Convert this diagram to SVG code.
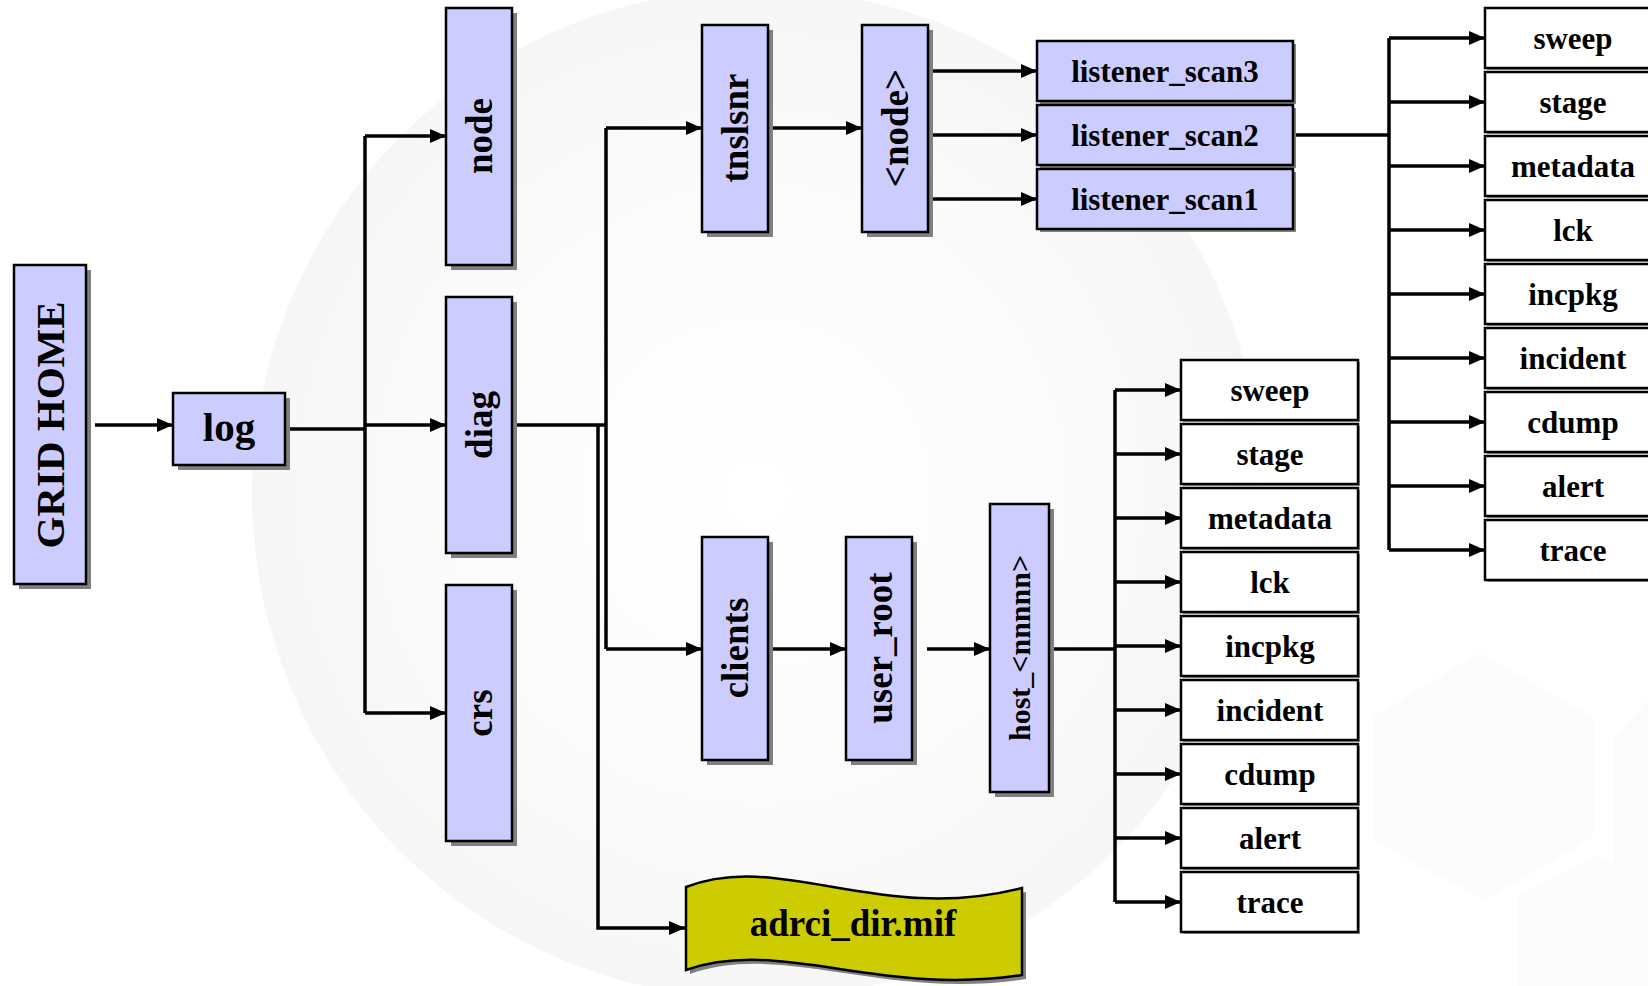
<svg xmlns="http://www.w3.org/2000/svg" width="1648" height="986" viewBox="0 0 1648 986">
<defs>
<marker id="ah" markerUnits="userSpaceOnUse" markerWidth="16" markerHeight="14" refX="16" refY="7" orient="auto"><path d="M0,0 L16,7 L0,14 z" fill="#000"/></marker>
<radialGradient id="bg" cx="0.5" cy="0.5" r="0.5"><stop offset="0" stop-color="#ffffff"/><stop offset="0.6" stop-color="#fbfbfb"/><stop offset="1" stop-color="#f6f6f6"/></radialGradient>
<style>
.b{fill:#ccccff;stroke:#000;stroke-width:2.5}
.w{fill:#fff;stroke:#000;stroke-width:2.5}
.sh{fill:#808080}
.shw{fill:#9a9a9a}
.t{font-family:"Liberation Serif","Times New Roman",serif;font-weight:bold;fill:#000;text-anchor:middle}
.c{fill:none;stroke:#000;stroke-width:3.5}
.a{fill:none;stroke:#000;stroke-width:3.5;marker-end:url(#ah)}
</style>
</defs>
<rect width="1648" height="986" fill="#fff"/>
<g id="background">
<circle cx="757" cy="494" r="505" fill="url(#bg)"/>
<polygon points="1480,653 1593,717 1593,837 1485,900 1373,840 1373,717" fill="#fbfbfb"/>
<polygon points="1648,700 1648,900 1613,880 1613,740" fill="#fbfbfb"/>
<polygon points="1597,855 1648,880 1648,986 1517,986 1517,895" fill="#fbfbfb"/>
</g>
<g id="connectors">
<path class="a" d="M95,425 H173"/>
<path class="c" d="M285,429 H365"/>
<path class="c" d="M365,136 V713"/>
<path class="a" d="M365,136 H446"/>
<path class="a" d="M365,425 H446"/>
<path class="a" d="M365,713 H446"/>
<path class="c" d="M512,425 H606"/>
<path class="c" d="M606,128 V649"/>
<path class="a" d="M606,128 H702"/>
<path class="a" d="M606,649 H702"/>
<path class="a" d="M598,425 V928 H685"/>
<path class="a" d="M768,128 H862"/>
<path class="a" d="M928,71 H1037"/>
<path class="a" d="M928,135 H1037"/>
<path class="a" d="M928,199 H1037"/>
<path class="c" d="M1293,135 H1389"/>
<path class="c" d="M1389,38 V550"/>
<path class="a" d="M1389,38 H1485"/>
<path class="a" d="M1389,102 H1485"/>
<path class="a" d="M1389,166 H1485"/>
<path class="a" d="M1389,230 H1485"/>
<path class="a" d="M1389,294 H1485"/>
<path class="a" d="M1389,358 H1485"/>
<path class="a" d="M1389,422 H1485"/>
<path class="a" d="M1389,486 H1485"/>
<path class="a" d="M1389,550 H1485"/>
<path class="a" d="M768,649 H846"/>
<path class="a" d="M927,649 H990"/>
<path class="c" d="M1049,649 H1115"/>
<path class="c" d="M1115,390 V902"/>
<path class="a" d="M1115,390 H1181"/>
<path class="a" d="M1115,454 H1181"/>
<path class="a" d="M1115,518 H1181"/>
<path class="a" d="M1115,582 H1181"/>
<path class="a" d="M1115,646 H1181"/>
<path class="a" d="M1115,710 H1181"/>
<path class="a" d="M1115,774 H1181"/>
<path class="a" d="M1115,838 H1181"/>
<path class="a" d="M1115,902 H1181"/>
</g>
<g id="grid-home"><rect class="sh" x="19" y="270" width="72" height="319"/><rect class="b" x="14" y="265" width="72" height="319"/><text class="t" font-size="41" transform="rotate(-90 50 425)" x="50" y="439">GRID HOME</text></g>
<g id="log"><rect class="sh" x="178" y="398" width="112" height="72"/><rect class="b" x="173" y="393" width="112" height="72"/><text class="t" font-size="41" x="229" y="441">log</text></g>
<g id="node"><rect class="sh" x="451" y="13" width="66" height="257"/><rect class="b" x="446" y="8" width="66" height="257"/><text class="t" font-size="37" transform="rotate(-90 479 136)" x="479" y="149">node</text></g>
<g id="diag"><rect class="sh" x="451" y="302" width="66" height="256"/><rect class="b" x="446" y="297" width="66" height="256"/><text class="t" font-size="37" transform="rotate(-90 479 425)" x="479" y="438">diag</text></g>
<g id="crs"><rect class="sh" x="451" y="590" width="66" height="256"/><rect class="b" x="446" y="585" width="66" height="256"/><text class="t" font-size="37" transform="rotate(-90 479 713)" x="479" y="726">crs</text></g>
<g id="tnslsnr"><rect class="sh" x="707" y="30" width="66" height="207"/><rect class="b" x="702" y="25" width="66" height="207"/><text class="t" font-size="37" transform="rotate(-90 735 128)" x="735" y="141">tnslsnr</text></g>
<g id="node-dir"><rect class="sh" x="867" y="30" width="66" height="207"/><rect class="b" x="862" y="25" width="66" height="207"/><text class="t" font-size="37" transform="rotate(-90 895 128)" x="895" y="141">&lt;node&gt;</text></g>
<g id="listener_scan3"><rect class="sh" x="1040" y="44" width="256" height="60"/><rect class="b" x="1037" y="41" width="256" height="60"/><text class="t" font-size="31" x="1165" y="82">listener_scan3</text></g>
<g id="listener_scan2"><rect class="sh" x="1040" y="108" width="256" height="60"/><rect class="b" x="1037" y="105" width="256" height="60"/><text class="t" font-size="31" x="1165" y="146">listener_scan2</text></g>
<g id="listener_scan1"><rect class="sh" x="1040" y="172" width="256" height="60"/><rect class="b" x="1037" y="169" width="256" height="60"/><text class="t" font-size="31" x="1165" y="210">listener_scan1</text></g>
<g id="clients"><rect class="sh" x="707" y="542" width="66" height="223"/><rect class="b" x="702" y="537" width="66" height="223"/><text class="t" font-size="37" transform="rotate(-90 735 648)" x="735" y="661">clients</text></g>
<g id="user_root"><rect class="sh" x="851" y="542" width="66" height="223"/><rect class="b" x="846" y="537" width="66" height="223"/><text class="t" font-size="37" transform="rotate(-90 879 648)" x="879" y="661">user_root</text></g>
<g id="host"><rect class="sh" x="995" y="509" width="59" height="288"/><rect class="b" x="990" y="504" width="59" height="288"/><text class="t" font-size="30" transform="rotate(-90 1019 648)" x="1019" y="659">host_&lt;nnnnn&gt;</text></g>
<g id="adrci_dir"><path d="M690,891 C784,854 884,929 1026,892 L1026,979 C884,1001 784,941 690,974 Z" class="sh"/><path d="M686,887 C780,850 880,925 1022,888 L1022,975 C880,997 780,937 686,970 Z" fill="#cccc00" stroke="#000" stroke-width="2.5"/><text class="t" font-size="37" x="853" y="936">adrci_dir.mif</text></g>
<g id="tnslsnr-subdirs">
<g id="r-sweep"><rect class="shw" x="1487" y="10" width="176" height="60"/><rect class="w" x="1485" y="8" width="176" height="60"/><text class="t" font-size="31" x="1573" y="49">sweep</text></g>
<g id="r-stage"><rect class="shw" x="1487" y="74" width="176" height="60"/><rect class="w" x="1485" y="72" width="176" height="60"/><text class="t" font-size="31" x="1573" y="113">stage</text></g>
<g id="r-metadata"><rect class="shw" x="1487" y="138" width="176" height="60"/><rect class="w" x="1485" y="136" width="176" height="60"/><text class="t" font-size="31" x="1573" y="177">metadata</text></g>
<g id="r-lck"><rect class="shw" x="1487" y="202" width="176" height="60"/><rect class="w" x="1485" y="200" width="176" height="60"/><text class="t" font-size="31" x="1573" y="241">lck</text></g>
<g id="r-incpkg"><rect class="shw" x="1487" y="266" width="176" height="60"/><rect class="w" x="1485" y="264" width="176" height="60"/><text class="t" font-size="31" x="1573" y="305">incpkg</text></g>
<g id="r-incident"><rect class="shw" x="1487" y="330" width="176" height="60"/><rect class="w" x="1485" y="328" width="176" height="60"/><text class="t" font-size="31" x="1573" y="369">incident</text></g>
<g id="r-cdump"><rect class="shw" x="1487" y="394" width="176" height="60"/><rect class="w" x="1485" y="392" width="176" height="60"/><text class="t" font-size="31" x="1573" y="433">cdump</text></g>
<g id="r-alert"><rect class="shw" x="1487" y="458" width="176" height="60"/><rect class="w" x="1485" y="456" width="176" height="60"/><text class="t" font-size="31" x="1573" y="497">alert</text></g>
<g id="r-trace"><rect class="shw" x="1487" y="522" width="176" height="60"/><rect class="w" x="1485" y="520" width="176" height="60"/><text class="t" font-size="31" x="1573" y="561">trace</text></g>
</g>
<g id="host-subdirs">
<g id="l-sweep"><rect class="shw" x="1183" y="362" width="177" height="60"/><rect class="w" x="1181" y="360" width="177" height="60"/><text class="t" font-size="31" x="1270" y="401">sweep</text></g>
<g id="l-stage"><rect class="shw" x="1183" y="426" width="177" height="60"/><rect class="w" x="1181" y="424" width="177" height="60"/><text class="t" font-size="31" x="1270" y="465">stage</text></g>
<g id="l-metadata"><rect class="shw" x="1183" y="490" width="177" height="60"/><rect class="w" x="1181" y="488" width="177" height="60"/><text class="t" font-size="31" x="1270" y="529">metadata</text></g>
<g id="l-lck"><rect class="shw" x="1183" y="554" width="177" height="60"/><rect class="w" x="1181" y="552" width="177" height="60"/><text class="t" font-size="31" x="1270" y="593">lck</text></g>
<g id="l-incpkg"><rect class="shw" x="1183" y="618" width="177" height="60"/><rect class="w" x="1181" y="616" width="177" height="60"/><text class="t" font-size="31" x="1270" y="657">incpkg</text></g>
<g id="l-incident"><rect class="shw" x="1183" y="682" width="177" height="60"/><rect class="w" x="1181" y="680" width="177" height="60"/><text class="t" font-size="31" x="1270" y="721">incident</text></g>
<g id="l-cdump"><rect class="shw" x="1183" y="746" width="177" height="60"/><rect class="w" x="1181" y="744" width="177" height="60"/><text class="t" font-size="31" x="1270" y="785">cdump</text></g>
<g id="l-alert"><rect class="shw" x="1183" y="810" width="177" height="60"/><rect class="w" x="1181" y="808" width="177" height="60"/><text class="t" font-size="31" x="1270" y="849">alert</text></g>
<g id="l-trace"><rect class="shw" x="1183" y="874" width="177" height="60"/><rect class="w" x="1181" y="872" width="177" height="60"/><text class="t" font-size="31" x="1270" y="913">trace</text></g>
</g>
</svg>
